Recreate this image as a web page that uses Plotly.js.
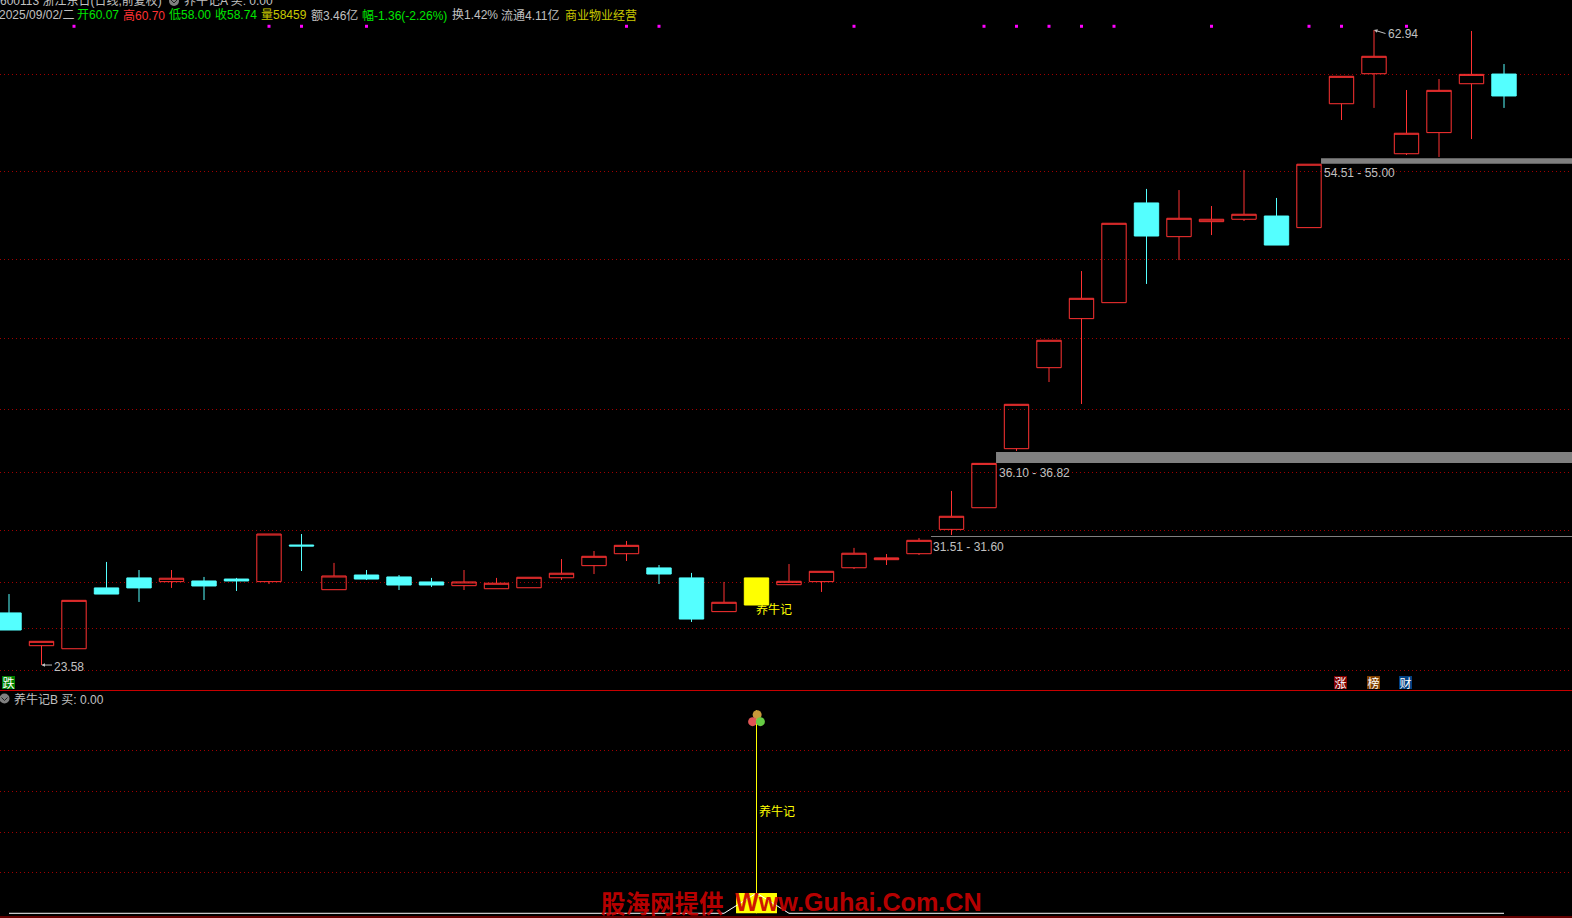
<!DOCTYPE html>
<html><head><meta charset="utf-8">
<script src="https://cdn.plot.ly/plotly-3.0.1.min.js"></script>
<style>html,body{margin:0;padding:0;background:#000;overflow:hidden}#c{width:1572px;height:918px}</style>
</head><body><div id="c"></div>
<script>
var dayIndex=[0,1,2,3,4,5,6,7,8,9,10,11,12,13,14,15,16,17,18,19,20,21,22,23,24,25,26,27,28,29,30,31,32,33,34,35,36,37,38,39,40,41,42,43,44,45,46];
var openP =[26.81,24.78,24.59,28.36,28.98,28.75,28.79,28.91,28.75,31.02,28.25,29.16,29.04,28.73,28.50,28.31,28.37,28.99,29.74,30.48,29.60,28.98,26.89,null,28.56,28.75,29.61,30.11,30.48,31.99,33.33,36.99,42.01,45.05,46.04,52.22,50.13,51.06,51.21,51.41,50.69,58.37,60.23,55.27,56.58,59.61,60.21];
var closeP=[25.75,25.05,27.59,27.98,28.36,28.96,28.48,28.79,31.70,30.96,29.10,28.91,28.54,28.54,28.73,28.65,29.02,29.27,30.32,31.00,29.22,26.43,27.47,null,28.77,29.39,30.51,30.22,31.31,32.80,36.08,39.74,43.71,46.31,50.96,50.17,51.27,51.21,51.52,49.61,54.62,60.07,61.31,56.54,59.20,60.19,58.85];
var highP =[27.98,25.05,27.59,29.97,29.47,29.47,29.04,28.98,31.70,31.70,29.91,29.47,29.16,28.98,29.47,28.98,29.02,30.15,30.65,31.27,29.78,29.29,28.73,null,29.84,29.39,30.84,30.46,31.45,34.37,36.08,39.74,43.71,48.00,50.96,53.09,53.02,52.03,54.26,52.53,54.62,60.07,62.94,59.22,59.90,62.88,60.83];
var lowP  =[25.75,23.58,24.59,27.98,27.49,28.36,27.61,28.17,28.60,29.41,28.25,28.85,28.23,28.42,28.23,28.31,28.37,28.85,29.22,30.03,28.60,26.25,26.89,null,28.56,28.11,29.53,29.78,30.40,31.64,33.33,36.85,41.12,39.76,46.04,47.20,48.68,50.23,51.10,49.61,50.69,57.36,58.11,55.19,55.07,56.18,58.11];
var buyDay=[23], buyOpen=[27.30], buyClose=[28.98], buyHigh=[28.98], buyLow=[27.30];
var markDays=[2,8,9,11,19,20,26,30,31,32,33,34,37,40,41,43];
var markLevel=[63.17,63.17,63.17,63.17,63.17,63.17,63.17,63.17,63.17,63.17,63.17,63.17,63.17,63.17,63.17,63.17];
var priceGrid=[23.25,25.85,28.70,31.90,35.50,39.40,43.80,48.70,54.20,60.20];
var signalGrid=[0.2,0.4,0.6,0.8];
var lineDays=[0,22,23,24,46], lineVals=[0,0,0.1,0,0];
var stemDays=[23,23], stemVals=[0,1];
var blockDays=[23], blockVals=[0.1];
var bandNames=['31.51 - 31.60','36.10 - 36.82','54.51 - 55.00'];
var bandStart=[28.37,30.37,40.37];
var bandLow=[31.515,36.10,54.65], bandHigh=[31.58,36.78,54.99];
var header1=['600113 浙江东日(日线,前复权)','养牛记A 买: 0.00'];
var header2=['2025/09/02/二','开60.07','高60.70','低58.00','收58.74','量58459','额3.46亿','幅-1.36(-2.26%)','换1.42%','流通4.11亿','商业物业经营'];
var badgeTexts=['跌','涨','榜','财'];

var W=1572,H=918,SPLIT=690,RED='#ff3232',CY='#54ffff',GR='#c0c0c0',YL='#ffff00',FONT='"Liberation Sans","Noto Sans CJK SC",sans-serif',CJK='"Noto Sans CJK SC","Liberation Sans",sans-serif';
var X0=-9/32.5, X1=(W-9)/32.5;
function pt(px,py,text,color,anchor,extra){
  var a={xref:'paper',yref:'paper',x:px/W,y:1-py/H,text:text,showarrow:false,xanchor:anchor||'left',yanchor:'middle',font:{family:FONT,size:12,color:color||GR},borderpad:0,borderwidth:0};
  if(extra)for(var k in extra)a[k]=extra[k];
  return a;
}
var traces=[];
bandNames.forEach(function(n,i){
  traces.push({type:'scatter',mode:'lines',x:[bandStart[i],50,50,bandStart[i],bandStart[i]],y:[bandLow[i],bandLow[i],bandHigh[i],bandHigh[i],bandLow[i]],fill:'toself',fillcolor:'#808080',line:{color:'#808080',width:0},xaxis:'x',yaxis:'y',hoverinfo:'skip',showlegend:false});
});
traces.push({type:'candlestick',x:dayIndex,open:openP,high:highP,low:lowP,close:closeP,xaxis:'x',yaxis:'y',
  increasing:{line:{color:RED,width:1},fillcolor:'rgba(0,0,0,0)'},decreasing:{line:{color:CY,width:1},fillcolor:CY},showlegend:false,hoverinfo:'skip'});
traces.push({type:'candlestick',x:buyDay,open:buyOpen,high:buyHigh,low:buyLow,close:buyClose,xaxis:'x',yaxis:'y',
  increasing:{line:{color:YL,width:1},fillcolor:YL},decreasing:{line:{color:YL,width:1},fillcolor:YL},showlegend:false,hoverinfo:'skip'});
traces.push({type:'scatter',mode:'markers',x:markDays,y:markLevel,marker:{symbol:'square',size:3,color:'#ff00ff'},xaxis:'x',yaxis:'y',showlegend:false,hoverinfo:'skip'});
traces.push({type:'scatter',mode:'lines',x:lineDays,y:lineVals,line:{color:'#ffffff',width:1},xaxis:'x',yaxis:'y2',showlegend:false,hoverinfo:'skip'});
traces.push({type:'bar',x:blockDays,y:blockVals,width:1.26,marker:{color:YL,line:{width:0}},xaxis:'x',yaxis:'y2',showlegend:false,hoverinfo:'skip'});
traces.push({type:'scatter',mode:'lines',x:stemDays,y:stemVals,line:{color:YL,width:1},xaxis:'x',yaxis:'y2',showlegend:false,hoverinfo:'skip'});
traces.push({type:'scatter',mode:'markers',x:[23.02,22.88,23.12],y:[0.978,0.944,0.944],marker:{size:9,color:['#c89a3a','#e05555','#66cc44'],line:{width:0}},xaxis:'x',yaxis:'y2',showlegend:false,hoverinfo:'skip'});

var ann=[];
ann.push(pt(0,1,header1[0],GR));
ann.push(pt(184,1,header1[1],GR));
var hx=[-1,77,123,169,215,261,311,362,452,501,565];
var hc=[GR,'#00e600',RED,'#00e600','#00e600','#c8c800',GR,'#00e600',GR,GR,'#c8c800'];
header2.forEach(function(t,i){ann.push(pt(hx[i],15,t,hc[i]));});
ann.push(pt(14,699,'养牛记B 买: 0.00',GR));
ann.push(pt(54,666.7,'23.58',GR));
ann.push(pt(1388,33.5,'62.94',GR));
ann.push(pt(1323.5,173.3,bandNames[2],GR));
ann.push(pt(998.5,472.7,bandNames[1],GR));
ann.push(pt(933.5,546.7,bandNames[0],GR));
ann.push(pt(756,609.3,'养牛记',YL));
ann.push(pt(759,811.7,'养牛记',YL));
var bx=[2,1334,1367,1399],bc=['#008000','#800000','#804000','#004080'];
badgeTexts.forEach(function(t,i){ann.push(pt(bx[i],682.5,t,'#ffffff',null,{bgcolor:bc[i],width:13,height:13,align:'center',valign:'middle',font:{family:CJK,size:12,color:'#fff'}}));});
ann.push({xref:'x',yref:'y',x:1,y:23.58,ax:12,ay:0,text:'',showarrow:true,arrowhead:2,arrowsize:0.7,arrowwidth:1,arrowcolor:GR});
ann.push({xref:'x',yref:'y',x:42,y:62.94,ax:13,ay:4,text:'',showarrow:true,arrowhead:2,arrowsize:0.7,arrowwidth:1,arrowcolor:GR});
ann.push(pt(601,902,'股海网提供',"rgba(200,0,0,0.92)",null,{font:{family:CJK,size:24.5,color:'rgba(200,0,0,0.92)',weight:700}}));
ann.push(pt(735,902,'Www.Guhai.Com.CN',"rgba(200,0,0,0.92)",null,{font:{family:'"Liberation Sans",sans-serif',size:25.2,color:'rgba(200,0,0,0.92)',weight:700}}));

function circle(cx,cy,r){return {type:'circle',xref:'paper',yref:'paper',x0:(cx-r)/W,x1:(cx+r)/W,y0:1-(cy+r)/H,y1:1-(cy-r)/H,fillcolor:'#808080',line:{width:0},layer:'above'};}
function chevron(cx,cy){var f=function(x,y){return (x/W)+','+(1-y/H);};return {type:'path',xref:'paper',yref:'paper',path:'M'+f(cx-3,cy-1)+'L'+f(cx,cy+2)+'L'+f(cx+3,cy-1),line:{color:'#222',width:1},layer:'above'};}
var shapes=[
 {type:'line',xref:'paper',yref:'paper',x0:0,x1:1,y0:1-(SPLIT+.5)/H,y1:1-(SPLIT+.5)/H,line:{color:'#c80000',width:1}},
 {type:'line',xref:'paper',yref:'paper',x0:0,x1:1,y0:1-917/H,y1:1-917/H,line:{color:'#c80000',width:1}},
 circle(174,1,5),circle(4.5,698.5,5),chevron(174,1),chevron(4.5,698.5)
];

var layout={width:W,height:H,paper_bgcolor:'#000',plot_bgcolor:'#000',margin:{l:0,r:0,t:0,b:0},showlegend:false,boxgap:0.25,boxgroupgap:0,boxmode:'overlay',barmode:'overlay',dragmode:false,hovermode:false,
 xaxis:{domain:[0,1],range:[X0,X1],visible:false,fixedrange:true,rangeslider:{visible:false},anchor:'y'},
 yaxis:{domain:[1-SPLIT/H,1],range:[64.799-0.06198*SPLIT,64.799],fixedrange:true,anchor:'x',tickmode:'array',tickvals:priceGrid,showticklabels:false,ticks:'',showgrid:true,gridcolor:'#a00000',griddash:'1px,3px',gridwidth:1,zeroline:false,showline:false},
 yaxis2:{domain:[0,1-SPLIT/H],range:[-0.0232,1.1],fixedrange:true,anchor:'x',tickmode:'array',tickvals:signalGrid,showticklabels:false,ticks:'',showgrid:true,gridcolor:'#a00000',griddash:'1px,3px',gridwidth:1,zeroline:false,showline:false},
 annotations:ann,shapes:shapes};
Plotly.newPlot('c',traces,layout,{displayModeBar:false,staticPlot:true});
</script></body></html>
